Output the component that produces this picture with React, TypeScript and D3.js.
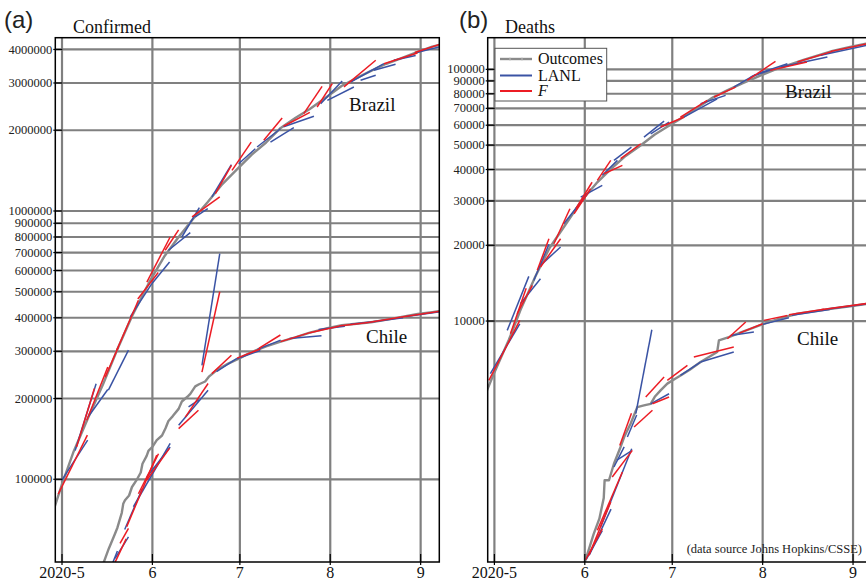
import React from "react";
import * as d3 from "d3";

// ---------- data (day offsets from 2020-05-01, values) ----------
const monthTickDays = [0, 31, 61, 92, 123];
const monthTickLabels = ["2020-5", "6", "7", "8", "9"];
const confirmedTicks = [100000, 200000, 300000, 400000, 500000, 600000, 700000, 800000, 900000, 1000000, 2000000, 3000000, 4000000];
const deathTicks = [10000, 20000, 30000, 40000, 50000, 60000, 70000, 80000, 90000, 100000];

const brazilConfirmed: [number, number][] = [
  [-3, 76000], [0, 96000], [4, 127000], [9, 170000], [14, 225000], [19, 305000], [24, 405000],
  [30, 545000], [35, 675000], [40, 800000], [45, 935000], [50, 1080000], [55, 1260000],
  [60, 1430000], [65, 1620000], [70, 1800000], [75, 2040000], [80, 2220000], [85, 2400000],
  [91, 2670000], [96, 2930000], [101, 3130000], [106, 3330000], [111, 3530000], [116, 3700000],
  [122, 3920000], [127, 4100000], [131, 4200000],
];
const chileConfirmed: [number, number][] = [
  [13, 45000], [14, 48000], [16, 55000], [18, 62000], [19, 66000], [20.5, 75000], [21, 81000],
  [21.6, 83500], [23, 87000], [24, 93600], [25.5, 99000], [27, 106000], [27.6, 114300],
  [29, 122000], [29.7, 128000], [31, 132000], [32.5, 140000], [34.3, 145600], [35.5, 155000],
  [36.5, 165000], [38, 172000], [40, 183000], [41.1, 195000], [43, 203000], [44, 208000],
  [45.7, 222000], [47, 226000], [49.1, 231500], [50.5, 242000], [53, 255000], [57, 270000],
  [61, 283000], [65, 298000], [70, 313000], [75, 326000], [80, 338000], [85, 352000],
  [91, 366000], [96, 375000], [101, 380000], [106, 385000], [111, 393000], [116, 402000],
  [122, 413000], [127, 420000], [131, 426000],
];
const brazilDeaths: [number, number][] = [
  [-3, 5150], [0, 6250], [5, 8450], [9, 11100], [14, 15000], [19, 19600], [24, 23800], [30, 30200],
  [35, 35300], [40, 40200], [45, 45300], [50, 49700], [55, 55100], [60, 59800], [65, 64900],
  [70, 70800], [75, 77400], [80, 82700], [85, 88000], [91, 94300], [96, 99500], [101, 104300],
  [106, 109000], [111, 113500], [116, 118300], [122, 122800], [127, 126100], [131, 128400],
];
const chileDeaths: [number, number][] = [
  [30.5, 1050], [31, 1100], [32.5, 1250], [34, 1420], [36, 1640], [37.5, 1980], [37.8, 2330],
  [39.3, 2330], [41, 2710], [43, 3100], [44.5, 3460], [46.7, 3910], [49, 4550], [51.3, 4620],
  [53.6, 4690], [55, 5000], [57, 5300], [59.3, 5640], [62, 5900], [64, 6090], [67, 6400],
  [70.7, 6870], [74, 7250], [76.4, 7530], [77, 8380], [80.4, 8640], [85, 9050], [92.4, 9750],
  [98, 10250], [103.9, 10690], [110, 10950], [115.4, 11190], [122, 11450], [131, 11850],
];

// forecast segments: [startDay, startValue, endDay, endValue]
const brazilConfirmedLANL = [
  [-0.1, 99000, 8.8, 140000], [4.5, 128000, 11.7, 227000], [9.0, 171000, 15.7, 216000],
  [15.9, 215000, 22.8, 303000], [23.4, 403000, 30.8, 536000], [30.8, 536000, 36.9, 646000],
  [36.5, 714000, 44, 830000], [41.1, 800000, 47.1, 1029000], [45.7, 950000, 50, 1020000],
  [51.4, 1128000, 58.1, 1488000], [60.6, 1500000, 66.3, 1706000], [66.9, 1732000, 74.9, 2026000],
  [71.5, 1807000, 79.5, 2045000], [76, 2060000, 86.4, 2254000], [88.7, 2510000, 96.1, 3050000],
  [91, 2585000, 100.1, 2899000], [99, 3025000, 110.4, 3540000], [102.4, 3070000, 107.6, 3204000],
  [107, 3345000, 114.4, 3522000], [113.8, 3645000, 121.3, 3800000], [121, 3880000, 131, 4130000],
];
const brazilConfirmedF = [
  [-1.3, 88000, 8.7, 146000], [5, 132000, 11.1, 218000], [8.5, 166000, 15.7, 262000],
  [14.8, 240000, 19.3, 311000], [18.8, 303000, 26.2, 465000], [26, 470000, 33, 590000],
  [29.1, 543000, 37.1, 800000], [35.4, 714000, 40, 851000], [44.6, 950000, 54.1, 1128000],
  [52.6, 1160000, 58.1, 1479000], [58.3, 1418000, 64.9, 1807000], [69.2, 1834000, 75.5, 2222000],
  [76, 2070000, 85, 2330000], [82.9, 2305000, 89.2, 2916000], [87.5, 2441000, 92.7, 2982000],
  [96.7, 2900000, 107.6, 3645000], [110.4, 3540000, 121.9, 3880000], [121, 3900000, 131, 4230000],
];
const chileConfirmedLANL = [
  [15, 42000, 19, 54000], [18.2, 50700, 22.8, 61000], [21.5, 65000, 27.5, 92000],
  [24.5, 79000, 37.1, 136000], [29.1, 102000, 37.1, 132000], [40, 159000, 50.1, 214800],
  [43.4, 186000, 47.1, 198000], [48, 266000, 54.1, 693000], [53, 252000, 60, 282000],
  [60, 281000, 68, 302000], [67, 305000, 75, 330000], [78, 335000, 89, 343000],
  [88, 362000, 97, 372000], [99, 378000, 108, 388000], [108, 388000, 117, 400000], [118, 404000, 131, 423000],
];
const chileConfirmedF = [
  [17, 46000, 22, 60000], [19.9, 57700, 22.8, 65600], [22.2, 66600, 32.5, 123000],
  [26.2, 88300, 33.1, 124500], [29.1, 99400, 36.9, 130600], [40, 154500, 46.8, 180800],
  [42.3, 170600, 50.1, 227500], [48, 251000, 54.1, 500000], [51.4, 247700, 58.1, 290000],
  [60, 283000, 68, 306000], [67.5, 307600, 74.9, 345000], [75, 326000, 85, 352000],
  [85, 352000, 95, 372000], [95, 373000, 105, 384000], [105, 384000, 116, 402000], [116, 402000, 131, 425000],
];
const brazilDeathsLANL = [
  [-1.4, 6175, 8.7, 9750], [4.4, 9180, 11.8, 15050], [8.9, 11720, 15.8, 14730],
  [13.5, 14500, 18.7, 20200], [15.8, 16640, 22.7, 19690], [23.8, 24360, 31.9, 32050],
  [29.6, 31090, 37, 34610], [37, 37930, 42.2, 43500], [41, 43500, 47, 49130],
  [51.3, 53830, 58.2, 62310], [53.6, 55460, 59.9, 61750], [65, 64640, 76.4, 76400],
  [70.7, 73010, 79.3, 78830], [82.1, 85040, 89.6, 95500], [87.9, 93200, 95.9, 100600],
  [90.2, 96070, 100.5, 105300], [98.2, 102100, 114.2, 111900], [111.9, 113700, 127.8, 124600],
];
const brazilDeathsF = [
  [-1.9, 5810, 8.7, 10060], [5.5, 8900, 10.9, 13500], [7.8, 10690, 13, 13870],
  [14.7, 15900, 18.7, 21230], [15.8, 16390, 22.7, 21230], [20.4, 20280, 25.9, 27930],
  [27.3, 26680, 33, 33550], [28, 28000, 33.5, 35600], [35.3, 36230, 39.9, 43500],
  [37.6, 38460, 43.9, 41560], [43.3, 44150, 50.2, 50640], [57, 59020, 65.1, 64640],
  [63.8, 64640, 73, 75340], [75.3, 77620, 82.7, 85040], [86.7, 90370, 96.4, 107600],
  [94.6, 99080, 107.2, 106900], [103.9, 106900, 115.9, 117900], [115.4, 117900, 128, 126500],
];
const chileDeathsLANL = [
  [31.5, 1130, 37, 1470], [32.6, 1180, 40, 1790], [36.4, 1519, 47.1, 3109],
  [41, 2630, 44.5, 3160], [42, 2800, 47, 3050], [45.6, 3459, 48.8, 4230],
  [48.5, 4285, 54, 9235], [53.6, 4690, 59.9, 5140], [63.8, 6085, 70.7, 6870],
  [70.7, 6870, 82.1, 7530], [81, 8770, 89, 9040], [92, 9700, 101, 10300],
  [102, 10550, 115, 11100], [114, 11150, 128, 11700],
];
const chileDeathsF = [
  [31.3, 1126, 37, 1494], [32.4, 1172, 39.9, 1910], [35.3, 1474, 43.9, 2512],
  [40.4, 2400, 47.3, 3064], [43, 3200, 47, 4300], [47.9, 3795, 54.2, 4420],
  [51.9, 4990, 58.2, 5990], [54.2, 4690, 59.9, 4990], [59.3, 5810, 66.2, 6670],
  [68.4, 7195, 82.1, 7884], [79.9, 8505, 86.2, 9910], [84, 8950, 92, 9750],
  [92.4, 10060, 100.5, 10530], [101, 10600, 113, 11150], [112, 11100, 128, 11750],
];

// ---------- layout ----------
const W = 866, H = 585;
const TOP = 37.7, BOTTOM = 562, PW = 384;
const DAY = 86400000;
const T0 = Date.UTC(2020, 4, 1);
const toDate = (d: number) => new Date(T0 + d * DAY);

const GRID = "#808080";
const GRAY = "#8a8a8a";
const BLUE = "#3a53a4";
const RED = "#ec1c24";
const SERIF = "'Liberation Serif', 'Times New Roman', serif";
const SANS = "'Liberation Sans', Arial, sans-serif";

type Seg = number[];

function Panel(props: {
  id: string; left: number; yDomain: [number, number]; yTicks: number[];
  outcomes: [number, number][][]; lanl: Seg[][]; f: Seg[][];
}) {
  const { id, left, yDomain, yTicks, outcomes, lanl, f } = props;
  const x = d3.scaleUtc().domain([toDate(-2.3), toDate(129.4)]).range([left, left + PW]);
  const y = d3.scaleLog().domain(yDomain).range([BOTTOM, TOP]);
  const line = d3.line<[number, number]>().x((d) => x(toDate(d[0]))).y((d) => y(d[1]));
  const segPath = (s: Seg) => line([[s[0], s[1]], [s[2], s[3]]]) || "";
  return (
    <g>
      <defs>
        <clipPath id={`clip-${id}`}>
          <rect x={left} y={TOP} width={PW} height={BOTTOM - TOP} />
        </clipPath>
      </defs>
      <g clipPath={`url(#clip-${id})`}>
        {yTicks.map((t) => (
          <line key={"h" + t} x1={left} x2={left + PW} y1={y(t)} y2={y(t)} stroke={GRID} strokeWidth={2.2} />
        ))}
        {monthTickDays.map((d) => (
          <line key={"v" + d} x1={x(toDate(d))} x2={x(toDate(d))} y1={TOP} y2={BOTTOM} stroke={GRID} strokeWidth={2.2} />
        ))}
        {outcomes.map((o, i) => (
          <path key={"o" + i} d={line(o) || ""} fill="none" stroke={GRAY} strokeWidth={2.4} strokeLinejoin="round" />
        ))}
        {lanl.flat().map((s, i) => (
          <path key={"b" + i} d={segPath(s)} fill="none" stroke={BLUE} strokeWidth={1.5} />
        ))}
        {f.flat().map((s, i) => (
          <path key={"r" + i} d={segPath(s)} fill="none" stroke={RED} strokeWidth={1.5} />
        ))}
      </g>
      {yTicks.map((t) => (
        <g key={"yt" + t}>
          <line x1={left - 2} x2={left + 7} y1={y(t)} y2={y(t)} stroke="#000" strokeWidth={1.2} />
          <text x={left - 3} y={y(t)} dy="0.33em" textAnchor="end" fontFamily={SERIF} fontSize={12.5} fill="#222">
            {t}
          </text>
        </g>
      ))}
      {monthTickDays.map((d, i) => (
        <g key={"xt" + d}>
          <line x1={x(toDate(d))} x2={x(toDate(d))} y1={BOTTOM - 8} y2={BOTTOM + 3} stroke="#000" strokeWidth={1.2} />
          <text x={x(toDate(d))} y={578} textAnchor="middle" fontFamily={SERIF} fontSize={16} fill="#111">
            {monthTickLabels[i]}
          </text>
        </g>
      ))}
      <rect x={left} y={TOP} width={PW} height={BOTTOM - TOP} fill="none" stroke="#000" strokeWidth={1.5} />
    </g>
  );
}

export default function App() {
  return (
    <svg width={W} height={H} style={{ position: "absolute", left: 0, top: 0, background: "#fff" }}>
      <rect x={0} y={0} width={W} height={H} fill="#fff" />
      <Panel id="a" left={55.3} yDomain={[49170, 4425000]} yTicks={confirmedTicks}
        outcomes={[brazilConfirmed, chileConfirmed]}
        lanl={[brazilConfirmedLANL, chileConfirmedLANL]} f={[brazilConfirmedF, chileConfirmedF]} />
      <Panel id="b" left={487.7} yDomain={[1103, 133600]} yTicks={deathTicks}
        outcomes={[brazilDeaths, chileDeaths]}
        lanl={[brazilDeathsLANL, chileDeathsLANL]} f={[brazilDeathsF, chileDeathsF]} />

      <text x={4} y={28} fontFamily={SANS} fontSize={24} fill="#222">(a)</text>
      <text x={73} y={33} fontFamily={SERIF} fontSize={18} fill="#111">Confirmed</text>
      <text x={459} y={28} fontFamily={SANS} fontSize={24} fill="#222">(b)</text>
      <text x={505} y={33} fontFamily={SERIF} fontSize={18} fill="#111">Deaths</text>

      <text x={349} y={111} fontFamily={SERIF} fontSize={19} fill="#111">Brazil</text>
      <text x={366} y={343} fontFamily={SERIF} fontSize={19} fill="#111">Chile</text>
      <text x={785} y={98} fontFamily={SERIF} fontSize={19} fill="#111">Brazil</text>
      <text x={797} y={345} fontFamily={SERIF} fontSize={19} fill="#111">Chile</text>

      <text x={862} y={553} textAnchor="end" fontFamily={SERIF} fontSize={12.5} fill="#222">
        (data source Johns Hopkins/CSSE)
      </text>

      <g>
        <rect x={495} y={48.3} width={111.7} height={52.7} fill="#fff" stroke="#555" strokeWidth={1} />
        <line x1={500} x2={532} y1={59} y2={59} stroke={GRAY} strokeWidth={2.4} />
        <line x1={510} x2={510} y1={57.5} y2={60.5} stroke="#bbb" strokeWidth={1} />
        <line x1={522} x2={522} y1={57.5} y2={60.5} stroke="#bbb" strokeWidth={1} />
        <text x={538} y={64} fontFamily={SERIF} fontSize={16} fill="#111">Outcomes</text>
        <line x1={500} x2={532} y1={75.5} y2={75.5} stroke={BLUE} strokeWidth={2} />
        <text x={538} y={80.5} fontFamily={SERIF} fontSize={16} fill="#111">LANL</text>
        <line x1={500} x2={532} y1={91} y2={91} stroke={RED} strokeWidth={2} />
        <text x={538} y={96} fontFamily={SERIF} fontSize={16} fontStyle="italic" fill="#111">F</text>
      </g>
    </svg>
  );
}
